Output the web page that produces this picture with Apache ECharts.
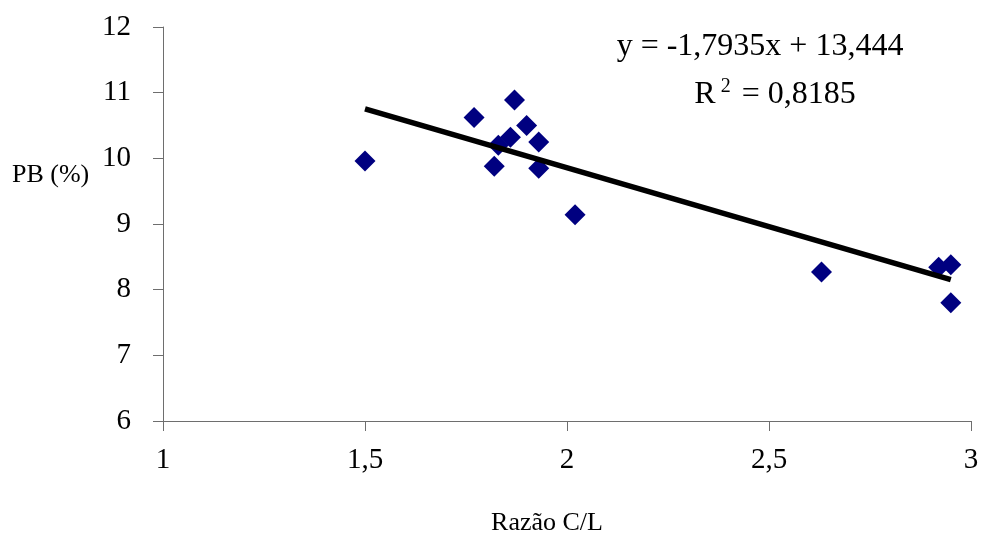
<!DOCTYPE html>
<html>
<head>
<meta charset="utf-8">
<script src="https://cdn.jsdelivr.net/npm/echarts@6/dist/echarts.min.js"></script>
<style>html,body{margin:0;padding:0;background:#fff}#c{width:982px;height:537px}</style>
</head>
<body>
<div id="c"></div>
<script>
const razaoCL = [1.50, 1.77, 1.87, 1.90, 1.86, 1.83, 1.93, 1.82, 1.93, 2.02, 2.63, 2.92, 2.95, 2.95];
const pb      = [9.96, 10.62, 10.89, 10.50, 10.32, 10.20, 10.25, 9.88, 9.85, 9.14, 8.27, 8.34, 8.38, 7.80];
const xTicks = [1, 1.5, 2, 2.5, 3];
const yTicks = [6, 7, 8, 9, 10, 11, 12];
const slope = -1.7935;
const intercept = 13.444;
const equationText = 'y = -1,7935x + 13,444';
const r2Text = '0,8185';
const xTitle = 'Razão C/L';
const yTitle = 'PB (%)';

const points = razaoCL.map((x, i) => [x, pb[i]]);
const xMin = Math.min(...razaoCL), xMax = Math.max(...razaoCL);
const trend = [[xMin, intercept + slope * xMin], [xMax, intercept + slope * xMax]];
const font = '"Liberation Serif", "Times New Roman", serif';
const fmt = v => String(v).replace('.', ',');

const chart = echarts.init(document.getElementById('c'));
chart.setOption({
  animation: false,
  backgroundColor: '#fff',
  grid: { left: 163, right: 11, top: 27, bottom: 116 },
  xAxis: {
    type: 'value', min: xTicks[0], max: xTicks[xTicks.length - 1], interval: 0.5,
    axisLine: { lineStyle: { color: '#6e6e6e', width: 1 } },
    axisTick: { show: true, length: 10, lineStyle: { color: '#6e6e6e' } },
    axisLabel: { color: '#000', fontFamily: font, fontSize: 29, margin: 25, formatter: fmt },
    splitLine: { show: false }
  },
  yAxis: {
    type: 'value', min: yTicks[0], max: yTicks[yTicks.length - 1], interval: 1,
    axisLine: { show: true, lineStyle: { color: '#6e6e6e', width: 1 } },
    axisTick: { show: true, length: 10, lineStyle: { color: '#6e6e6e' } },
    axisLabel: { color: '#000', fontFamily: font, fontSize: 29, margin: 32, formatter: fmt },
    splitLine: { show: false }
  },
  series: [
    {
      type: 'scatter', data: points, symbol: 'diamond', symbolSize: [21, 21],
      itemStyle: { color: '#000080', opacity: 1 }, z: 2
    },
    {
      type: 'line', data: trend, symbol: 'none', silent: true,
      lineStyle: { color: '#000', width: 5.5 }, z: 3
    }
  ],
  graphic: [
    { type: 'text', x: 547, y: 523, style: { text: xTitle, font: '26px ' + font, fill: '#000', align: 'center', verticalAlign: 'middle' } },
    { type: 'text', x: 12, y: 175, style: { text: yTitle, font: '26px ' + font, fill: '#000', align: 'left', verticalAlign: 'middle' } },
    { type: 'text', x: 760, y: 47, style: { text: equationText, font: '32px ' + font, fill: '#000', align: 'center', verticalAlign: 'middle' } },
    { type: 'text', x: 775, y: 95, style: {
        text: 'R{s|2} = ' + r2Text, font: '32px ' + font, fill: '#000', align: 'center', verticalAlign: 'middle',
        rich: { s: { fontSize: 20, fontFamily: font, verticalAlign: 'top', padding: [0, 3, 16, 5] } }
      } }
  ]
});
</script>
</body>
</html>
